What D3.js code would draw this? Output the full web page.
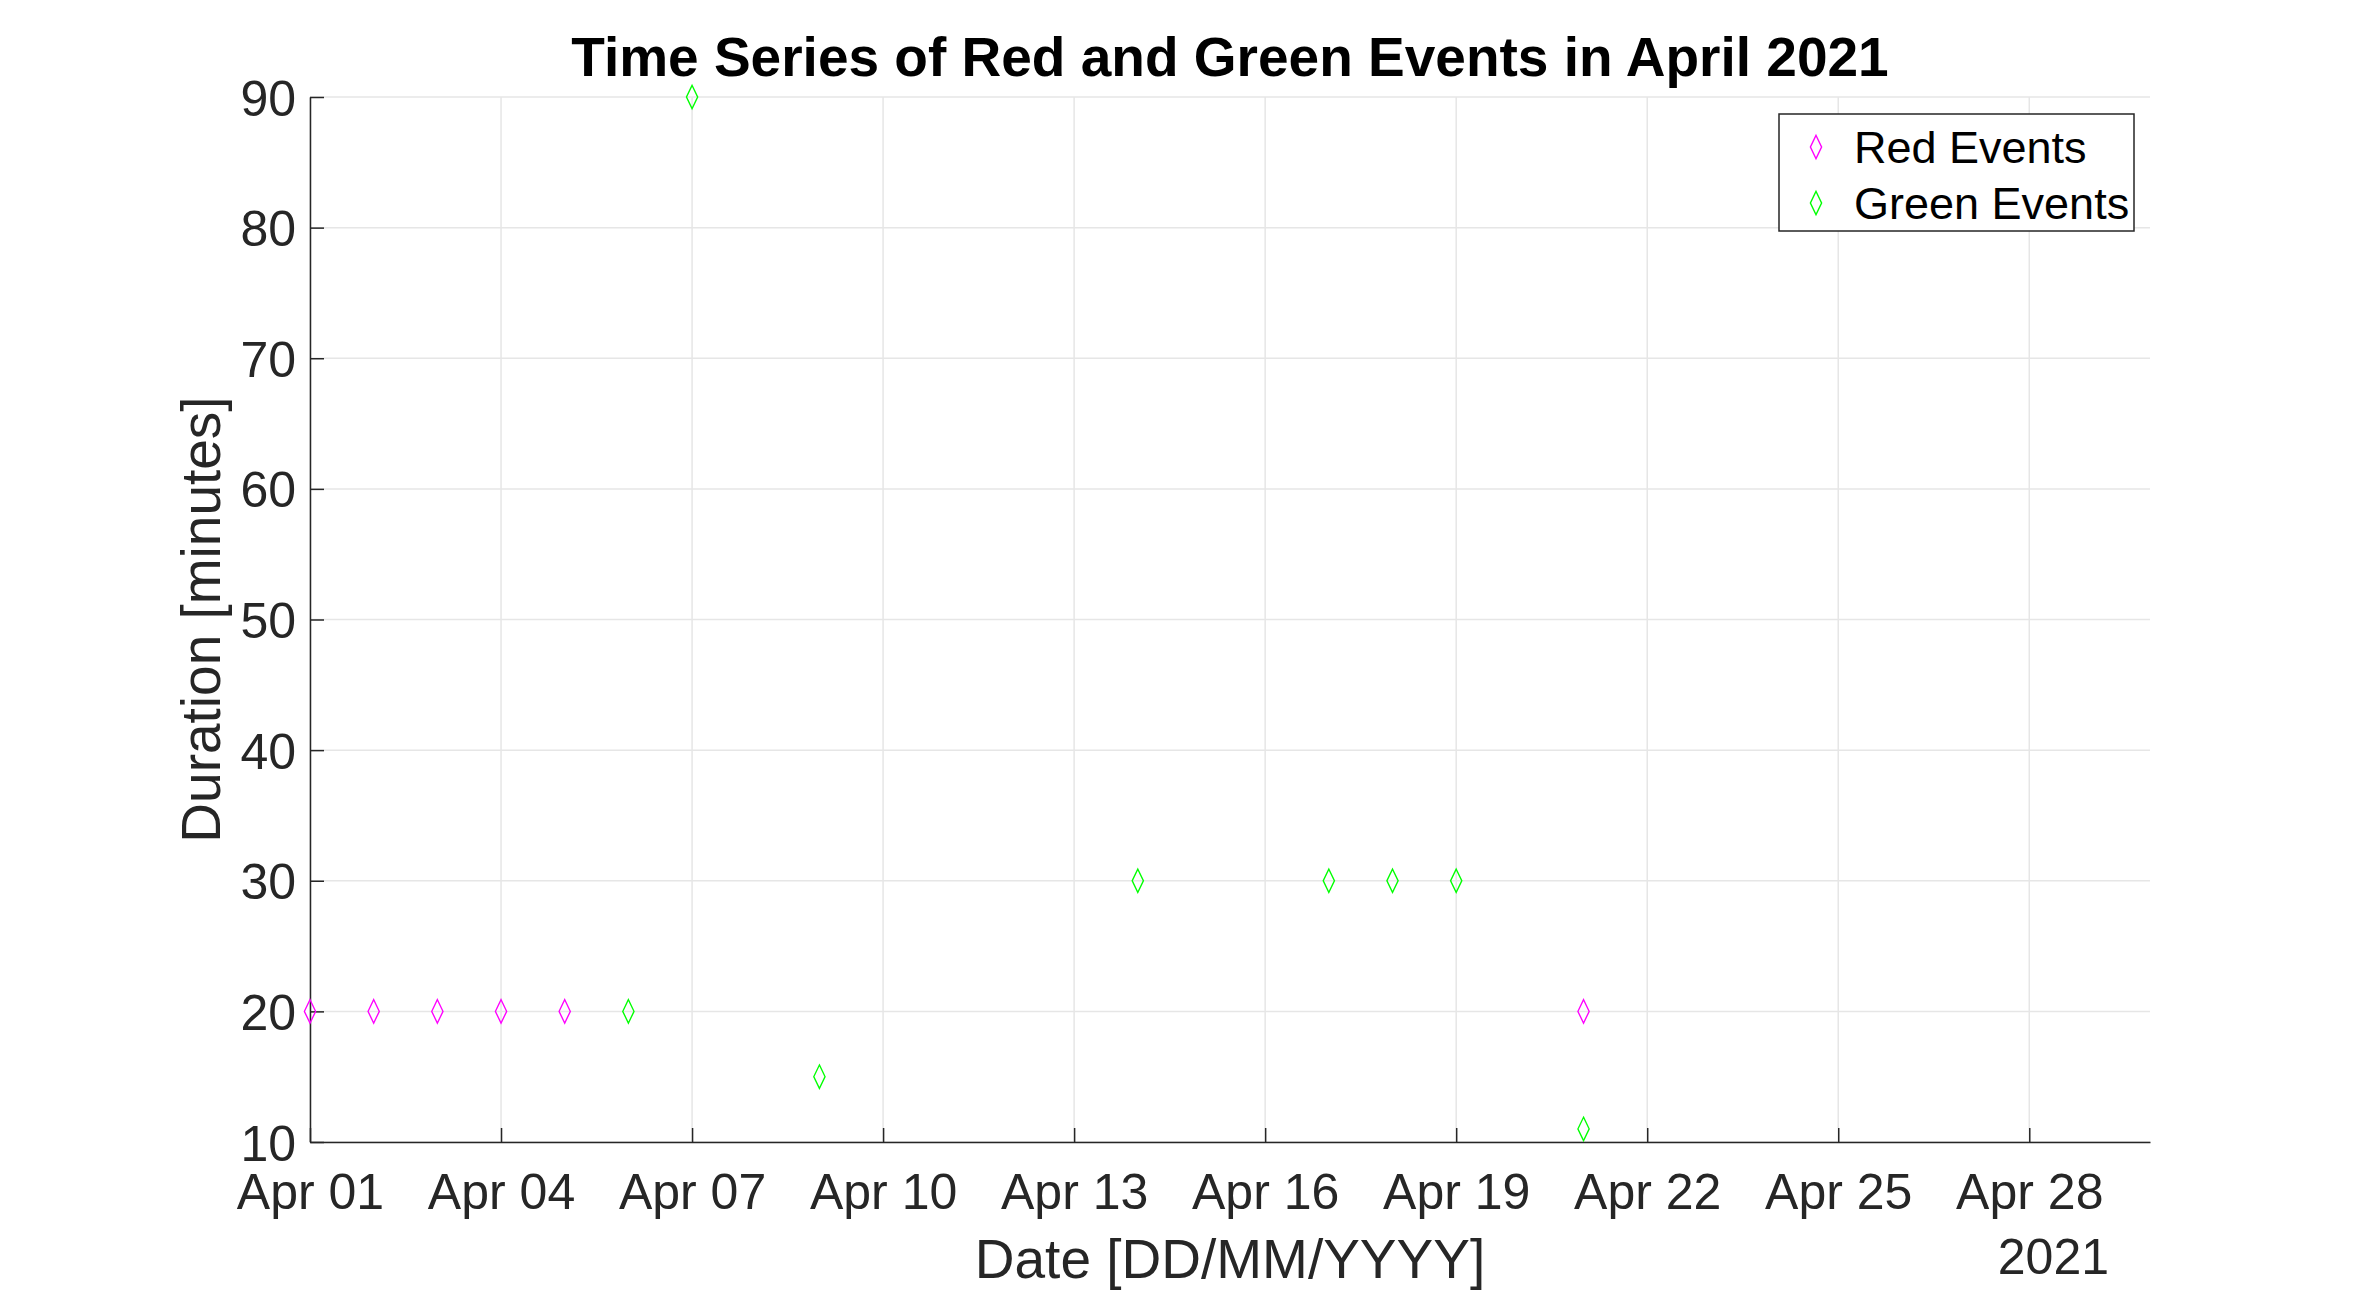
<!DOCTYPE html>
<html><head><meta charset="utf-8">
<script src="https://cdn.jsdelivr.net/npm/d3@7"></script>
<style>body{margin:0;background:#fff}text{font-family:"Liberation Sans",Arial,sans-serif;fill:#262626}</style>
</head><body><svg id="c" width="2378" height="1291"></svg>
<script>
const redDates=["2021-04-01","2021-04-02","2021-04-03","2021-04-04","2021-04-05","2021-04-21"];
const redValues=[20,20,20,20,20,20];
const greenDates=["2021-04-06","2021-04-07","2021-04-09","2021-04-14","2021-04-17","2021-04-18","2021-04-19","2021-04-21"];
const greenValues=[20,90,15,30,30,30,30,11];
const xTickDates=["2021-04-01","2021-04-04","2021-04-07","2021-04-10","2021-04-13","2021-04-16","2021-04-19","2021-04-22","2021-04-25","2021-04-28"];
const xTickLabels=["Apr 01","Apr 04","Apr 07","Apr 10","Apr 13","Apr 16","Apr 19","Apr 22","Apr 25","Apr 28"];
const yTicks=[10,20,30,40,50,60,70,80,90];

const svg=d3.select("#c");
const L=310,R=2150,T=97,B=1142;
const pd=d3.utcParse("%Y-%m-%d");
const x=d3.scaleUtc().domain([pd("2021-04-01"),new Date(Date.UTC(2021,3,29,21,30))]).range([L,R]);
const y=d3.scaleLinear().domain([10,90]).range([B,T]);
const g=svg.append("g");
g.selectAll(".gx").data(xTickDates).join("line").attr("x1",d=>x(pd(d))).attr("x2",d=>x(pd(d))).attr("y1",T).attr("y2",B).attr("stroke","#e6e6e6").attr("stroke-width",1.5);
g.selectAll(".gy").data(yTicks).join("line").attr("y1",d=>y(d)).attr("y2",d=>y(d)).attr("x1",L).attr("x2",R).attr("stroke","#e6e6e6").attr("stroke-width",1.5);
const xa=svg.append("g").attr("transform",`translate(0,${B})`).call(d3.axisBottom(x).tickValues(xTickDates.map(pd)).tickFormat((d,i)=>xTickLabels[i]).tickSizeInner(-14).tickSizeOuter(0).tickPadding(31));
const ya=svg.append("g").attr("transform",`translate(${L},0)`).call(d3.axisLeft(y).tickValues(yTicks).tickSizeInner(-14).tickSizeOuter(0).tickPadding(14));
[xa,ya].forEach(a=>{a.select(".domain").attr("stroke","#262626").attr("stroke-width",1.5);a.selectAll(".tick line").attr("stroke","#262626").attr("stroke-width",1.5);a.selectAll("text").style("font-size","50px").attr("fill","#262626");});
xa.selectAll("text").attr("dy","0.71em");
ya.selectAll("text").attr("dy","0.36em");
const dia=d3.symbol().type(d3.symbolDiamond).size(110);
function pts(dates,vals,col){svg.append("g").selectAll("path").data(dates.map((d,i)=>[pd(d),vals[i]])).join("path")
 .attr("d",dia).attr("transform",d=>`translate(${x(d[0])},${y(d[1])}) scale(1,1.2)`).attr("fill","none").attr("stroke",col).attr("stroke-width",1.3);}
pts(redDates,redValues,"#ff00ff");
pts(greenDates,greenValues,"#00ff00");
svg.append("text").attr("x",(L+R)/2).attr("y",76).attr("text-anchor","middle").style("font-size","55px").style("font-weight","bold").style("fill","#000").text("Time Series of Red and Green Events in April 2021");
svg.append("text").attr("x",(L+R)/2).attr("y",1278).attr("text-anchor","middle").style("font-size","55px").text("Date [DD/MM/YYYY]");
svg.append("text").attr("x",2109).attr("y",1274).attr("text-anchor","end").style("font-size","50px").text("2021");
svg.append("text").attr("transform",`translate(220,${(T+B)/2}) rotate(-90)`).attr("text-anchor","middle").style("font-size","55px").text("Duration [minutes]");
const lg=svg.append("g");
lg.append("rect").attr("x",1779).attr("y",114).attr("width",355).attr("height",117).attr("fill","#fff").attr("stroke","#262626").attr("stroke-width",1.5);
[["Red Events","#ff00ff",147],["Green Events","#00ff00",203]].forEach(([t,c,yy])=>{
 lg.append("path").attr("d",dia).attr("transform",`translate(1816,${yy}) scale(1,1.2)`).attr("fill","none").attr("stroke",c).attr("stroke-width",1.3);
 lg.append("text").attr("x",1854).attr("y",yy).attr("dy","0.36em").style("font-size","45px").style("fill","#000").text(t);
});
</script></body></html>
